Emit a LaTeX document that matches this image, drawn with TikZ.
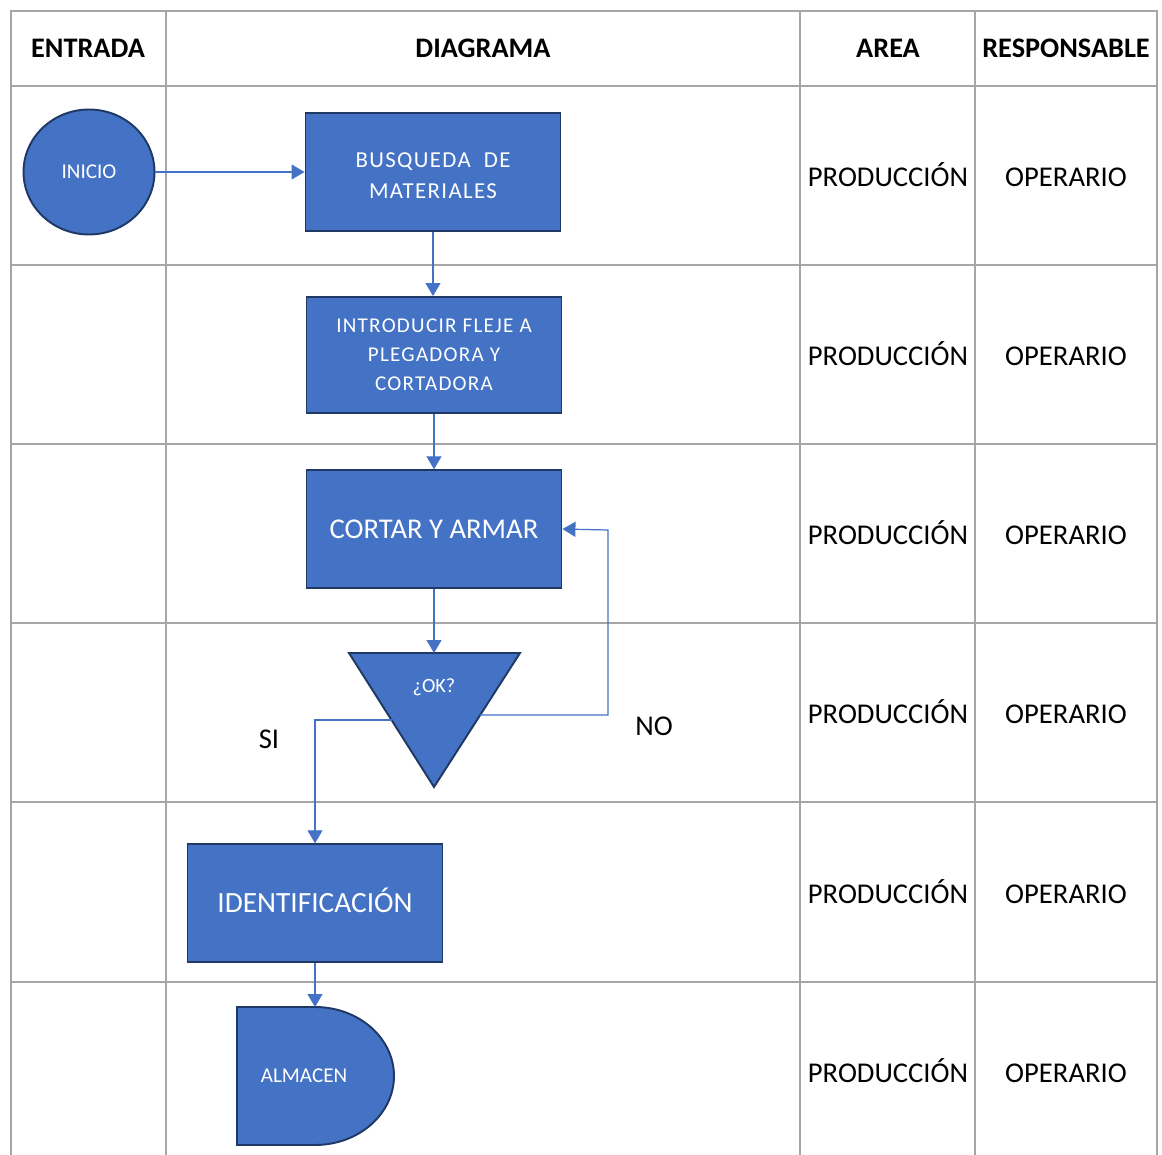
\documentclass[tikz,border=0pt]{standalone}
\usepackage{fontspec}
\setmainfont{Carlito}
\newfontfamily\espaciada[LetterSpace=6]{Carlito}
\usepackage{tikz}
\usetikzlibrary{arrows.meta, positioning, calc, shapes.geometric}
\definecolor{azul}{HTML}{4472C4}
\definecolor{marino}{HTML}{1F3864}
\definecolor{rejilla}{HTML}{A6A6A6}

\begin{document}
\begin{tikzpicture}[x=0.02cm, y=-0.02cm,
    caja/.style={rectangle, draw=marino, fill=azul, line width=1.1pt, minimum width=5.1cm, minimum height=2.35cm, text=white, align=center},
    flecha/.style={draw=azul, line width=0.7pt, -{Triangle[length=2.6mm, width=3mm]}},
    celda/.style={font=\fontsize{16.3}{19}\selectfont, text height=10.3pt, text depth=0pt},
    titulo/.style={font=\fontsize{16.1}{19}\selectfont\bfseries, text height=10.2pt, text depth=0pt}]
    \useasboundingbox (0,0) rectangle (1162,1155);

    % tabla
    \draw[rejilla, line width=1.2pt] (11,1155) -- (11,11) -- (1157,11) -- (1157,1155);
    \foreach \x in {166,800,975}
        \draw[rejilla, line width=1.2pt] (\x,11) -- (\x,1155);
    \foreach \y in {86,265,444,623,802,982}
        \draw[rejilla, line width=1.2pt] (11,\y) -- (1157,\y);

    \node[titulo] (hentrada) at (88,49) {ENTRADA};
    \node[titulo] (hdiagrama) at (483,49) {DIAGRAMA};
    \node[titulo] (harea) at (888,49) {AREA};
    \node[titulo] (hresp) at (1066,49) {RESPONSABLE};

    \foreach \y/\n in {177/1,356/2,535/3,714/4,894/5,1073/6} {
        \node[celda] (area\n) at (888,\y) {PRODUCCIÓN};
        \node[celda] (resp\n) at (1066,\y) {OPERARIO};
    }

    % diagrama
    \node[ellipse, draw=marino, fill=azul, line width=1.1pt, minimum width=2.62cm, minimum height=2.5cm, text=white, font=\fontsize{12}{14}\selectfont] (inicio) at (89,172) {INICIO};
    \node[caja, font=\espaciada\fontsize{13}{17.6}\selectfont] (busqueda) at (433,172) {\strut BUSQUEDA\ \ DE\\MATERIALES};
    \node[caja, minimum height=2.32cm, font=\espaciada\fontsize{12}{16.5}\selectfont] (introducir) at (434,355) {INTRODUCIR FLEJE A\\PLEGADORA Y\\CORTADORA};
    \node[caja, font=\fontsize{16.3}{19}\selectfont] (cortar) at (434,529) {CORTAR Y ARMAR};

    \coordinate (okL) at (349,653);
    \coordinate (okR) at (520,653);
    \coordinate (okB) at (434,787);
    \coordinate (okT) at (434,653);
    \filldraw[draw=marino, fill=azul, line width=1.1pt] (okL) -- (okR) -- (okB) -- cycle;
    \node[text=white, font=\fontsize{11.5}{14}\selectfont] (ok) at (434,687) {¿OK?};
    \coordinate (noout) at ($(okR)!0.463!(okB)$);
    \coordinate (siout) at ($(okL)!0.5!(okB)$);
    \coordinate (retorno) at (608,530);

    \node[caja, font=\fontsize{16.7}{19}\selectfont, text height=10.5pt, text depth=0pt] (identificacion) at (315,903) {IDENTIFICACIÓN};

    \coordinate (almacenN) at (315,1007);
    \filldraw[draw=marino, fill=azul, line width=1.1pt] (237,1007) -- (almacenN) arc[start angle=90, end angle=-90, x radius=1.58cm, y radius=1.38cm] -- (237,1145) -- cycle;
    \node[text=white, font=\fontsize{12}{14}\selectfont] (almacen) at (304,1076) {ALMACEN};

    \node[celda] (si) at (269,739) {SI};
    \node[celda] (no) at (654,726) {NO};

    \draw[flecha] (inicio) -- (busqueda);
    \draw[flecha] (busqueda.south) -- (busqueda.south |- introducir.north);
    \draw[flecha] (introducir) -- (cortar);
    \draw[flecha] (cortar) -- (okT);
    \draw[flecha] (noout) -| (retorno) -- (cortar.east);
    \draw[flecha] (siout) -| (identificacion.north);
    \draw[flecha] (identificacion) -- (almacenN);
\end{tikzpicture}
\end{document}
